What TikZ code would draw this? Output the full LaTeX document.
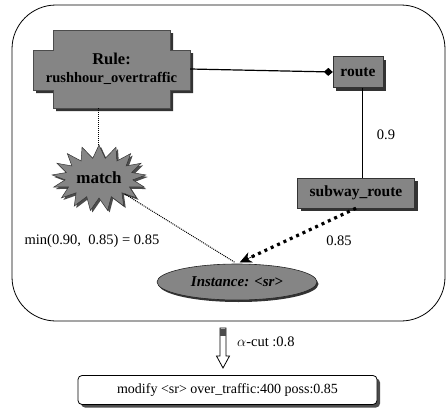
\documentclass[tikz,border=0pt]{standalone}
\usepackage{fontspec}
\setmainfont{Liberation Serif}
\usetikzlibrary{shapes.symbols,shapes.geometric,shadows,arrows.meta,calc}

\tikzset{
  grayfill/.style={fill=black!48},
  boxnode/.style={grayfill, draw=black!80, line width=0.4pt, inner sep=2pt,
    font=\fontsize{15.5}{16}\selectfont\bfseries,
    drop shadow={shadow xshift=3pt, shadow yshift=-3pt, fill=black!80, opacity=1}},
  lbl/.style={font=\fontsize{14.5}{16}\selectfont, inner sep=0pt},
  thinlink/.style={densely dotted, line width=1pt},
  thicklink/.style={line width=3.2pt, dash pattern=on 3pt off 4pt},
}

\begin{document}
\begin{tikzpicture}[x=1pt, y=-1pt]
\useasboundingbox (0,0) rectangle (447,415);

% frame around the rule network
\draw[line width=0.8pt, rounded corners=44pt] (12,5) rectangle (445,321);

% cross-shaped rule node: shadow, then body
\fill[black!80, shift={(3,3)}]
  (53,30) -- (170,30) -- (170,50) -- (190,50) -- (190,90) -- (170,90) -- (170,108)
  -- (53,108) -- (53,90) -- (33,90) -- (33,50) -- (53,50) -- cycle;
\fill[grayfill, draw=black!70, line width=0.4pt]
  (53,30) -- (170,30) -- (170,50) -- (190,50) -- (190,90) -- (170,90) -- (170,108)
  -- (53,108) -- (53,90) -- (33,90) -- (33,50) -- (53,50) -- cycle;
\node[minimum width=157pt, minimum height=78pt, inner sep=0pt,
      align=center, font=\fontsize{16.5}{20}\selectfont\bfseries] (rule) at (111.5,69)
  {Rule:\\[-2pt]\fontsize{14.5}{16}\selectfont rushhour\_overtraffic};

% concept nodes
\node[boxnode, minimum width=50pt, minimum height=31pt] (route) at (358,72) {route};
\node[boxnode, minimum width=117pt, minimum height=30pt] (subway) at (356,193) {subway\_route};

% match starburst
\node[starburst, starburst points=17, starburst point height=13pt, random starburst=0,
      grayfill, draw=black!80, line width=0.5pt, minimum width=94pt, minimum height=66pt,
      inner sep=0pt, font=\fontsize{17}{18}\selectfont\bfseries,
      drop shadow={shadow xshift=2pt, shadow yshift=-2pt, fill=black!70, opacity=1}]
  (match) at (99,178) {match};

% instance ellipse
\node[ellipse, grayfill, draw=black!85, line width=0.6pt, minimum width=160pt,
      minimum height=36pt, inner sep=0pt,
      font=\fontsize{15}{16}\selectfont\bfseries\itshape,
      drop shadow={shadow xshift=1.5pt, shadow yshift=-2pt, fill=black!80, opacity=1}]
  (inst) at (237,282) {Instance: <sr>};

% links
\draw[line width=1.2pt, -{Diamond[length=9pt, width=8pt]}] (rule.east) -- (route.west);
\draw[line width=1pt] (route.south -| 362,0) -- (subway.north -| 362,0);
\draw[thinlink] (match.north |- rule.south) -- (match.north);
\draw[thinlink, shorten >=3pt] (match) -- (inst.north);
\draw[thicklink, shorten >=8pt] (subway.south) -- (inst.north);
\draw[-{Stealth[length=12pt, width=11pt]}, line width=0.6pt, shorten >=3pt]
  ($ (subway.south)!0.85!(inst.north) $) -- (inst.north);

% link labels
\node[lbl] (l09) at (386,135) {0.9};
\node[lbl] (lmin) at (92,241) {min(0.90,\ \ 0.85) = 0.85};
\node[lbl] (l085) at (339,241) {0.85};

% alpha-cut arrow
\coordinate (abot) at (223,368);
\draw[line width=0.8pt, fill=white]
  (220,328) -- (226,328) -- (226,356) -- (229.5,356) -- (abot) -- (216.5,356) -- (220,356) -- cycle;
\fill[black!70] (220.4,329) rectangle (225.6,336);
\node[lbl, anchor=west] (lcut) at (237,342) {$\alpha$-cut :0.8};

% resulting action
\node[draw=black, line width=0.8pt, fill=white, rounded corners=4pt,
      minimum width=299pt, minimum height=29pt, inner sep=0pt,
      font=\fontsize{14}{15}\selectfont,
      drop shadow={shadow xshift=3pt, shadow yshift=-3pt, fill=black!70, opacity=1}]
  (act) at (227.5,390) {modify <sr> over\_traffic:400 poss:0.85};
\end{tikzpicture}
\end{document}
